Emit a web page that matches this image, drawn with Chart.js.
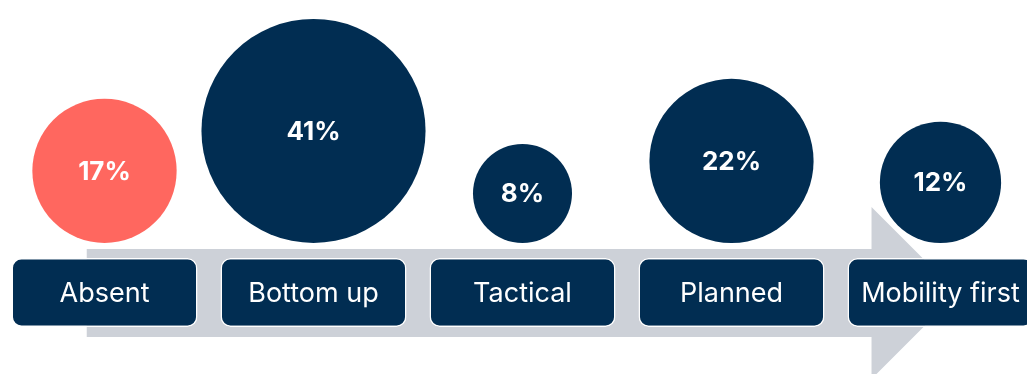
<!DOCTYPE html>
<html lang="en">
<head>
  <meta charset="UTF-8">
  <title>Mobility strategy maturity</title>
  <script src="https://cdn.jsdelivr.net/npm/chart.js"></script>
  <style>
    html, body {
      margin: 0;
      padding: 0;
      background: #fff;
      overflow: hidden;
    }
    .wrap {
      width: 1045px;
      height: 374px;
    }
  </style>
</head>
<body>
  <div class="wrap">
    <canvas id="maturity" width="1045" height="374"></canvas>
  </div>

  <script>
    // Stages and share of respondents in each
    const stages = ['Absent', 'Bottom up', 'Tactical', 'Planned', 'Mobility first'];
    const shares = [17, 41, 8, 22, 12];
    const shareLabels = ['17%', '41%', '8%', '22%', '12%'];

    const NAVY = '#012d52';
    const CORAL = '#ff675f';
    const GREY = '#cdd1d8';

    // circles stand on this line, label boxes sit below it
    const BASE = 243;
    const BOX = [258, 327];
    const radius = v => Math.sqrt(v) * 17.5;

    const arrowPlugin = {
      id: 'arrow',
      beforeDatasetsDraw(chart) {
        const { ctx, scales: { x, y } } = chart;
        const x0 = x.getPixelForValue(-0.085);
        const xh = x.getPixelForValue(3.67);
        const top = y.getPixelForValue(249);
        const bot = y.getPixelForValue(337);
        const mid = (top + bot) / 2;
        const half = 86;
        ctx.save();
        ctx.fillStyle = GREY;
        ctx.beginPath();
        ctx.moveTo(x0, top);
        ctx.lineTo(xh, top);
        ctx.lineTo(xh, mid - half);
        ctx.lineTo(xh + half, mid);
        ctx.lineTo(xh, mid + half);
        ctx.lineTo(xh, bot);
        ctx.lineTo(x0, bot);
        ctx.closePath();
        ctx.fill();
        ctx.restore();
      }
    };

    const textPlugin = {
      id: 'texts',
      afterDatasetsDraw(chart) {
        const { ctx } = chart;
        ctx.save();
        ctx.fillStyle = '#fff';
        ctx.textAlign = 'center';
        ctx.textBaseline = 'middle';

        ctx.font = '400 27px Inter';
        chart.getDatasetMeta(0).data.forEach((bar, i) => {
          ctx.fillText(stages[i], bar.x, (bar.y + bar.base) / 2 + 1);
        });

        ctx.font = '700 26px Inter';
        chart.getDatasetMeta(1).data.forEach((pt, i) => {
          ctx.fillText(shareLabels[i], pt.x, pt.y + 1);
        });
        ctx.restore();
      }
    };

    new Chart(document.getElementById('maturity'), {
      type: 'bar',
      data: {
        labels: stages,
        datasets: [
          {
            data: stages.map(() => BOX),
            backgroundColor: NAVY,
            borderColor: '#fff',
            borderWidth: 1.5,
            borderSkipped: false,
            borderRadius: 10,
            barPercentage: 0.89,
            categoryPercentage: 1
          },
          {
            type: 'bubble',
            data: shares.map((v, i) => ({ x: stages[i], y: BASE - radius(v), r: radius(v) })),
            backgroundColor: shares.map((v, i) => i === 0 ? CORAL : NAVY),
            borderWidth: 0
          }
        ]
      },
      options: {
        responsive: false,
        animation: false,
        events: [],
        layout: { padding: 0, autoPadding: false },
        plugins: {
          legend: { display: false },
          tooltip: { enabled: false }
        },
        scales: {
          x: { type: 'category', offset: true, display: false },
          y: { type: 'linear', min: 0, max: 374, reverse: true, display: false }
        }
      },
      plugins: [arrowPlugin, textPlugin]
    });
  </script>
</body>
</html>
